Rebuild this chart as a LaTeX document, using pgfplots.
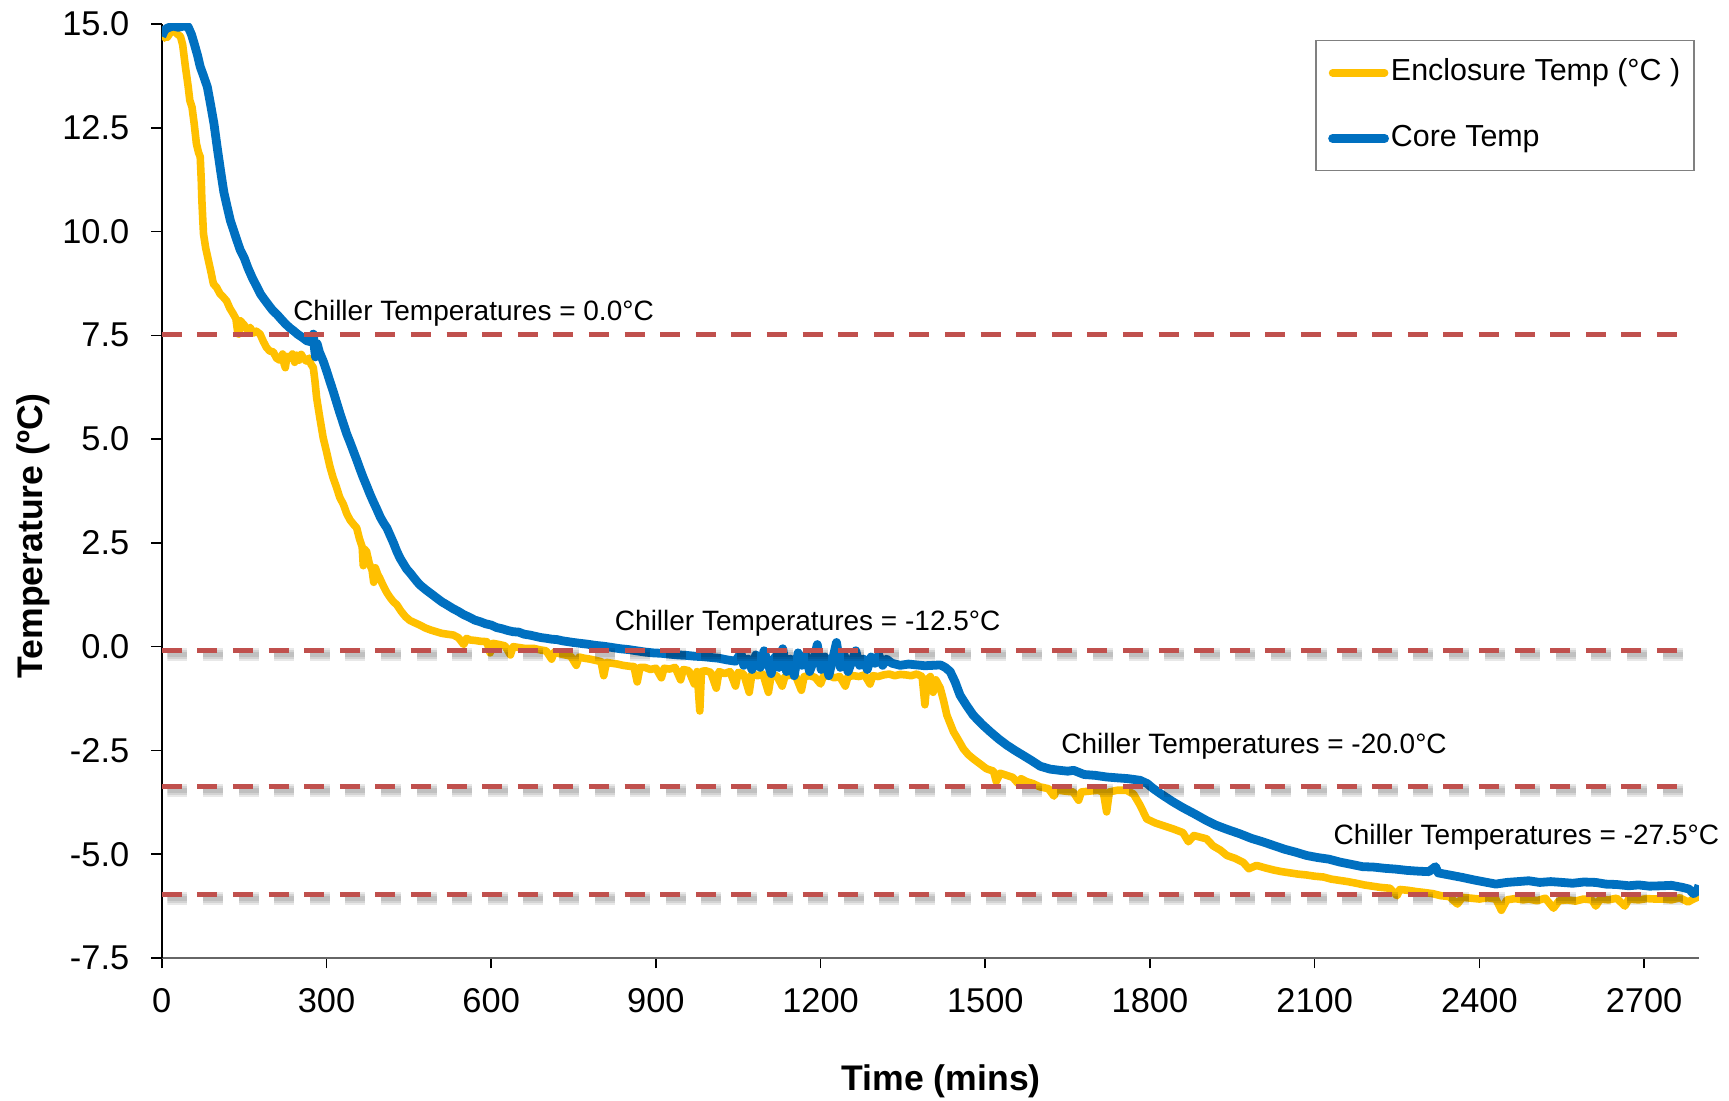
\documentclass[border=0pt]{standalone}
\usepackage{fontspec}
\setmainfont{Liberation Sans}
\usepackage{pgfplots}
\pgfplotsset{compat=1.18}

\definecolor{encl}{HTML}{FFC000}
\definecolor{core}{HTML}{0070C0}
\definecolor{chill}{HTML}{C0504D}

\pgfplotsset{
  chiller/.style={chill, line width=1.2pt, dash pattern=on 5pt off 3.9pt, forget plot},
  chshadow/.style={black, opacity=0.09, line width=#1, dash pattern=on 5pt off 3.9pt,
    xshift=1.4pt, yshift=-1pt, forget plot},
}

\begin{document}
\begin{tikzpicture}
\useasboundingbox (-40.45pt,-35.75pt) rectangle (391.8pt,239.5pt);
\begin{axis}[
    name=ax,
    at={(0pt,0pt)}, anchor=south west,
    scale only axis,
    width=384.3pt, height=233.5pt,
    xmin=0, xmax=2800,
    ymin=-7.5, ymax=15,
    xtick={0,300,...,2700},
    ytick={-7.5,-5,...,15},
    axis x line=bottom, axis y line=left,
    axis line style={-},
    x axis line style={gray!80!black, line width=0.6pt},
    y axis line style={black, line width=0.4pt},
    tick align=outside,
    major tick length=2.6pt,
    tick style={black, line width=0.4pt},
    every tick label/.append style={font=\fontsize{8.6}{10}\selectfont},
    /pgf/number format/assume math mode=true,
    xticklabel style={yshift=-1.4pt, /pgf/number format/set thousands separator={}},
    yticklabel style={xshift=-2pt, /pgf/number format/.cd, fixed, fixed zerofill, precision=1},
    xlabel={Time (mins)},
    ylabel={Temperature (ºC)},
    every axis x label/.style={at={(axis description cs:0.507,-0.1315)}, anchor=center,
      inner sep=0pt, font=\bfseries\fontsize{8.9}{11}\selectfont},
    every axis y label/.style={at={(axis description cs:-0.0833,0.452)}, anchor=center,
      rotate=90, inner sep=0pt, font=\bfseries\fontsize{8.9}{11}\selectfont},
    clip mode=individual,
    legend style={at={(rel axis cs:0.9974,0.983)}, anchor=north east,
      draw=gray, line width=0.4pt, inner xsep=3pt, inner ysep=4pt, row sep=8.3pt,
      font=\fontsize{7.6}{9}\selectfont,
      nodes={inner sep=0.5pt, text height=5.5pt, text depth=1.6pt}},
    legend cell align=left,
    legend image code/.code={\draw[#1, line cap=round] (0pt,0pt) -- (13pt,0pt);},
]

\addplot[encl, line width=1.9pt, line join=round] coordinates {
(0,14.62)(5,14.7)(10,14.68)(15,14.78)(22,14.85)(28,14.76)(34,14.7)(38,14.5)(43,13.97)(48,13.5)
(51,13.16)(55,13.0)(59,12.6)(63,12.12)(67,11.9)(70,11.8)(72,11.2)(73,10.75)(75,10.2)(76,9.94)
(80,9.6)(85,9.3)(90,9.0)(94,8.74)(100,8.65)(106,8.5)(112,8.42)(118,8.33)(124,8.15)(130,8.02)
(135,7.9)(138,7.6)(140,7.53)(143,7.85)(150,7.75)(156,7.62)(161,7.69)(166,7.55)(172,7.6)(179,7.53)
(185,7.35)(191,7.2)(197,7.12)(203,7.1)(209,6.95)(215,6.9)(220,7.05)(223,6.8)(225,6.72)(228,7.0)
(233,6.95)(238,7.05)(242,6.85)(246,7.02)(250,6.9)(254,7.04)(258,6.95)(263,6.88)(268,6.95)(272,6.8)
(276,6.72)(279,6.4)(282,6.0)(288,5.5)(294,5.03)(300,4.7)(306,4.35)(312,4.07)(318,3.85)(324,3.6)
(331,3.42)(337,3.2)(343,3.05)(349,2.95)(355,2.86)(360,2.6)(365,2.4)(367,1.95)(369,2.35)(373,2.29)
(378,2.0)(383,1.85)(386,1.55)(389,1.9)(393,1.75)(397,1.65)(404,1.45)(410,1.3)(416,1.18)(422,1.08)
(428,1.01)(436,0.85)(444,0.72)(452,0.63)(460,0.58)(470,0.52)(480,0.45)(490,0.4)(500,0.36)(510,0.32)
(520,0.3)(531,0.28)(540,0.22)(550,0.05)(555,0.2)(562,0.16)(570,0.15)(580,0.13)(592,0.12)(598,-0.15)
(603,0.08)(615,0.05)(625,0.02)(635,-0.2)(640,0.0)(650,-0.02)(660,-0.04)(677,-0.04)(690,-0.08)(700,-0.1)
(710,-0.3)(715,-0.13)(725,-0.17)(735,-0.2)(745,-0.23)(755,-0.45)(760,-0.25)(770,-0.28)(780,-0.3)(790,-0.33)
(800,-0.36)(805,-0.7)(810,-0.38)(820,-0.4)(830,-0.42)(840,-0.45)(850,-0.47)(860,-0.48)(866,-0.85)(871,-0.5)
(880,-0.5)(890,-0.55)(900,-0.52)(910,-0.75)(915,-0.52)(925,-0.54)(935,-0.5)(945,-0.8)(950,-0.55)(960,-0.58)
(970,-0.9)(975,-0.6)(980,-1.55)(983,-0.6)(990,-0.58)(1000,-0.62)(1010,-1.0)(1015,-0.6)(1025,-0.65)(1035,-0.6)
(1045,-0.95)(1050,-0.62)(1060,-0.66)(1070,-1.1)(1075,-0.65)(1085,-0.7)(1095,-0.66)(1105,-1.1)(1110,-0.68)(1120,-0.7)
(1130,-0.95)(1135,-0.72)(1145,-0.68)(1155,-0.72)(1165,-1.05)(1170,-0.72)(1180,-0.7)(1190,-0.74)(1200,-0.9)(1205,-0.72)
(1215,-0.7)(1225,-0.75)(1235,-0.72)(1245,-0.95)(1250,-0.72)(1260,-0.7)(1270,-0.72)(1280,-0.68)(1290,-0.9)(1295,-0.7)
(1305,-0.72)(1315,-0.68)(1325,-0.66)(1335,-0.7)(1345,-0.67)(1355,-0.68)(1365,-0.7)(1375,-0.66)(1385,-0.72)(1390,-1.4)
(1394,-0.8)(1400,-0.72)(1405,-1.1)(1410,-0.8)(1418,-1.0)(1424,-1.3)(1430,-1.65)(1436,-1.85)(1442,-2.05)(1451,-2.25)
(1460,-2.46)(1469,-2.6)(1478,-2.7)(1490,-2.82)(1502,-2.94)(1515,-3.0)(1520,-3.25)(1527,-3.05)(1539,-3.1)(1550,-3.15)
(1560,-3.3)(1565,-3.18)(1575,-3.25)(1587,-3.3)(1600,-3.38)(1615,-3.42)(1625,-3.6)(1630,-3.45)(1645,-3.48)(1660,-3.5)
(1670,-3.7)(1675,-3.5)(1690,-3.48)(1705,-3.46)(1715,-3.5)(1721,-3.98)(1726,-3.5)(1740,-3.46)(1757,-3.46)(1770,-3.55)
(1782,-3.82)(1794,-4.15)(1810,-4.25)(1826,-4.32)(1842,-4.39)(1860,-4.48)(1870,-4.7)(1880,-4.55)(1903,-4.63)(1915,-4.8)
(1928,-4.9)(1940,-5.03)(1955,-5.1)(1970,-5.2)(1980,-5.35)(1994,-5.27)(2010,-5.33)(2025,-5.38)(2040,-5.42)(2055,-5.45)
(2070,-5.48)(2085,-5.5)(2100,-5.53)(2116,-5.55)(2130,-5.6)(2145,-5.63)(2160,-5.66)(2176,-5.7)(2190,-5.74)(2205,-5.77)
(2220,-5.8)(2237,-5.82)(2250,-6.0)(2255,-5.85)(2270,-5.87)(2285,-5.9)(2298,-5.92)(2315,-5.95)(2330,-6.0)(2345,-6.02)
(2360,-6.2)(2369,-6.04)(2385,-6.06)(2400,-6.08)(2415,-6.05)(2430,-6.08)(2440,-6.35)(2450,-6.1)(2465,-6.07)(2480,-6.1)
(2490,-6.08)(2505,-6.12)(2520,-6.06)(2535,-6.3)(2545,-6.12)(2560,-6.1)(2575,-6.13)(2590,-6.08)(2605,-6.1)(2612,-6.25)
(2620,-6.08)(2635,-6.1)(2650,-6.06)(2665,-6.25)(2672,-6.08)(2690,-6.1)(2705,-6.07)(2720,-6.08)(2733,-6.08)(2750,-6.1)
(2765,-6.05)(2780,-6.15)(2790,-6.08)(2800,-6.02)
};
\addlegendentry{Enclosure Temp (°C )}

\addplot[core, line width=2.2pt, line join=round] coordinates {
(0,14.7)(5,14.85)(10,14.9)(20,14.95)(30,14.92)(40,14.95)(48,14.93)(54,14.75)(59,14.53)(65,14.25)
(70,13.97)(76,13.75)(83,13.48)(89,13.05)(95,12.6)(101,12.02)(107,11.47)(113,10.95)(119,10.6)(125,10.26)
(131,10.02)(137,9.78)(143,9.55)(150,9.37)(157,9.12)(165,8.88)(172,8.7)(180,8.49)(187,8.36)(195,8.22)
(202,8.1)(210,8.0)(218,7.88)(225,7.78)(233,7.68)(240,7.61)(248,7.52)(256,7.45)(264,7.37)(270,7.35)
(274,7.45)(276,7.53)(278,7.2)(280,6.98)(283,7.3)(287,7.1)(294,6.88)(300,6.65)(306,6.4)(312,6.16)
(318,5.9)(325,5.6)(331,5.36)(337,5.12)(343,4.92)(349,4.71)(355,4.5)(361,4.28)(367,4.07)(373,3.88)
(379,3.68)(385,3.5)(392,3.3)(398,3.12)(404,2.98)(410,2.86)(416,2.68)(422,2.5)(428,2.3)(434,2.13)
(440,2.0)(446,1.87)(452,1.78)(458,1.68)(464,1.58)(470,1.49)(480,1.38)(490,1.28)(500,1.18)(510,1.08)
(519,1.01)(530,0.92)(540,0.85)(550,0.77)(560,0.71)(570,0.64)(580,0.6)(590,0.55)(600,0.52)(610,0.46)
(620,0.43)(630,0.39)(640,0.36)(650,0.35)(660,0.3)(670,0.28)(680,0.25)(690,0.22)(701,0.2)(710,0.18)
(720,0.17)(730,0.14)(740,0.12)(750,0.1)(762,0.08)(775,0.06)(790,0.03)(805,0.01)(820,-0.02)(835,-0.05)
(850,-0.07)(865,-0.1)(880,-0.13)(895,-0.15)(910,-0.16)(925,-0.18)(940,-0.2)(955,-0.21)(970,-0.23)(985,-0.24)
(1000,-0.26)(1015,-0.28)(1030,-0.32)(1045,-0.35)(1055,-0.15)(1060,-0.45)(1068,-0.3)(1075,-0.55)(1082,-0.2)(1090,-0.5)
(1097,-0.1)(1104,-0.4)(1110,-0.65)(1117,-0.25)(1124,-0.5)(1131,-0.05)(1138,-0.6)(1145,-0.3)(1152,-0.7)(1159,-0.15)
(1166,-0.45)(1173,-0.2)(1180,-0.6)(1187,-0.35)(1194,0.05)(1201,-0.55)(1208,-0.25)(1215,-0.7)(1222,-0.3)(1229,0.1)
(1236,-0.5)(1243,-0.2)(1250,-0.6)(1257,-0.35)(1264,-0.1)(1271,-0.45)(1278,-0.3)(1285,-0.55)(1292,-0.25)(1299,-0.4)
(1306,-0.2)(1313,-0.45)(1320,-0.3)(1330,-0.4)(1345,-0.45)(1360,-0.42)(1375,-0.44)(1390,-0.46)(1405,-0.45)(1418,-0.44)
(1427,-0.5)(1436,-0.6)(1445,-0.85)(1454,-1.17)(1466,-1.42)(1478,-1.65)(1494,-1.87)(1509,-2.05)(1524,-2.22)(1539,-2.37)
(1554,-2.5)(1569,-2.62)(1585,-2.75)(1600,-2.88)(1618,-2.95)(1636,-2.98)(1650,-3.0)(1661,-2.98)(1680,-3.08)(1700,-3.1)
(1721,-3.14)(1740,-3.16)(1760,-3.18)(1782,-3.22)(1795,-3.3)(1806,-3.42)(1820,-3.55)(1842,-3.74)(1860,-3.88)(1880,-4.02)
(1903,-4.19)(1920,-4.3)(1940,-4.4)(1964,-4.51)(1985,-4.62)(2005,-4.7)(2025,-4.79)(2045,-4.88)(2065,-4.95)(2085,-5.03)
(2105,-5.08)(2126,-5.12)(2146,-5.19)(2165,-5.24)(2187,-5.3)(2207,-5.31)(2228,-5.34)(2248,-5.36)(2268,-5.39)(2290,-5.41)
(2308,-5.42)(2320,-5.3)(2325,-5.45)(2345,-5.5)(2369,-5.56)(2390,-5.62)(2410,-5.67)(2430,-5.72)(2450,-5.68)(2470,-5.66)
(2490,-5.64)(2510,-5.68)(2530,-5.66)(2551,-5.68)(2570,-5.7)(2590,-5.67)(2612,-5.68)(2630,-5.72)(2650,-5.73)(2672,-5.76)
(2690,-5.74)(2710,-5.77)(2733,-5.76)(2750,-5.75)(2770,-5.8)(2782,-5.84)(2790,-5.95)(2796,-5.9)(2800,-5.75)
};
\addlegendentry{Core Temp}

% chiller set points, with the soft shadow Excel puts under the lower three
\addplot[chshadow=3.2pt] coordinates {(0,-0.1)(2780,-0.1)};
\addplot[chshadow=3.2pt] coordinates {(0,-3.36)(2780,-3.36)};
\addplot[chshadow=3.2pt] coordinates {(0,-5.97)(2780,-5.97)};
\addplot[chshadow=2.2pt] coordinates {(0,-0.1)(2780,-0.1)};
\addplot[chshadow=2.2pt] coordinates {(0,-3.36)(2780,-3.36)};
\addplot[chshadow=2.2pt] coordinates {(0,-5.97)(2780,-5.97)};
\addplot[chshadow=1.3pt] coordinates {(0,-0.1)(2780,-0.1)};
\addplot[chshadow=1.3pt] coordinates {(0,-3.36)(2780,-3.36)};
\addplot[chshadow=1.3pt] coordinates {(0,-5.97)(2780,-5.97)};
\addplot[chiller] coordinates {(0,7.51)(2785,7.51)};
\addplot[chiller] coordinates {(0,-0.1)(2780,-0.1)};
\addplot[chiller] coordinates {(0,-3.36)(2780,-3.36)};
\addplot[chiller] coordinates {(0,-5.97)(2780,-5.97)};

\begin{scope}[every node/.style={anchor=west, inner sep=0pt, font=\fontsize{7}{8}\selectfont}]
\node at (axis cs:238,8.02) {Chiller Temperatures = 0.0°C};
\node at (axis cs:824,0.56) {Chiller Temperatures = -12.5°C};
\node at (axis cs:1637,-2.39) {Chiller Temperatures = -20.0°C};
\node at (axis cs:2133,-4.59) {Chiller Temperatures = -27.5°C};
\end{scope}
\end{axis}
\end{tikzpicture}
\end{document}
